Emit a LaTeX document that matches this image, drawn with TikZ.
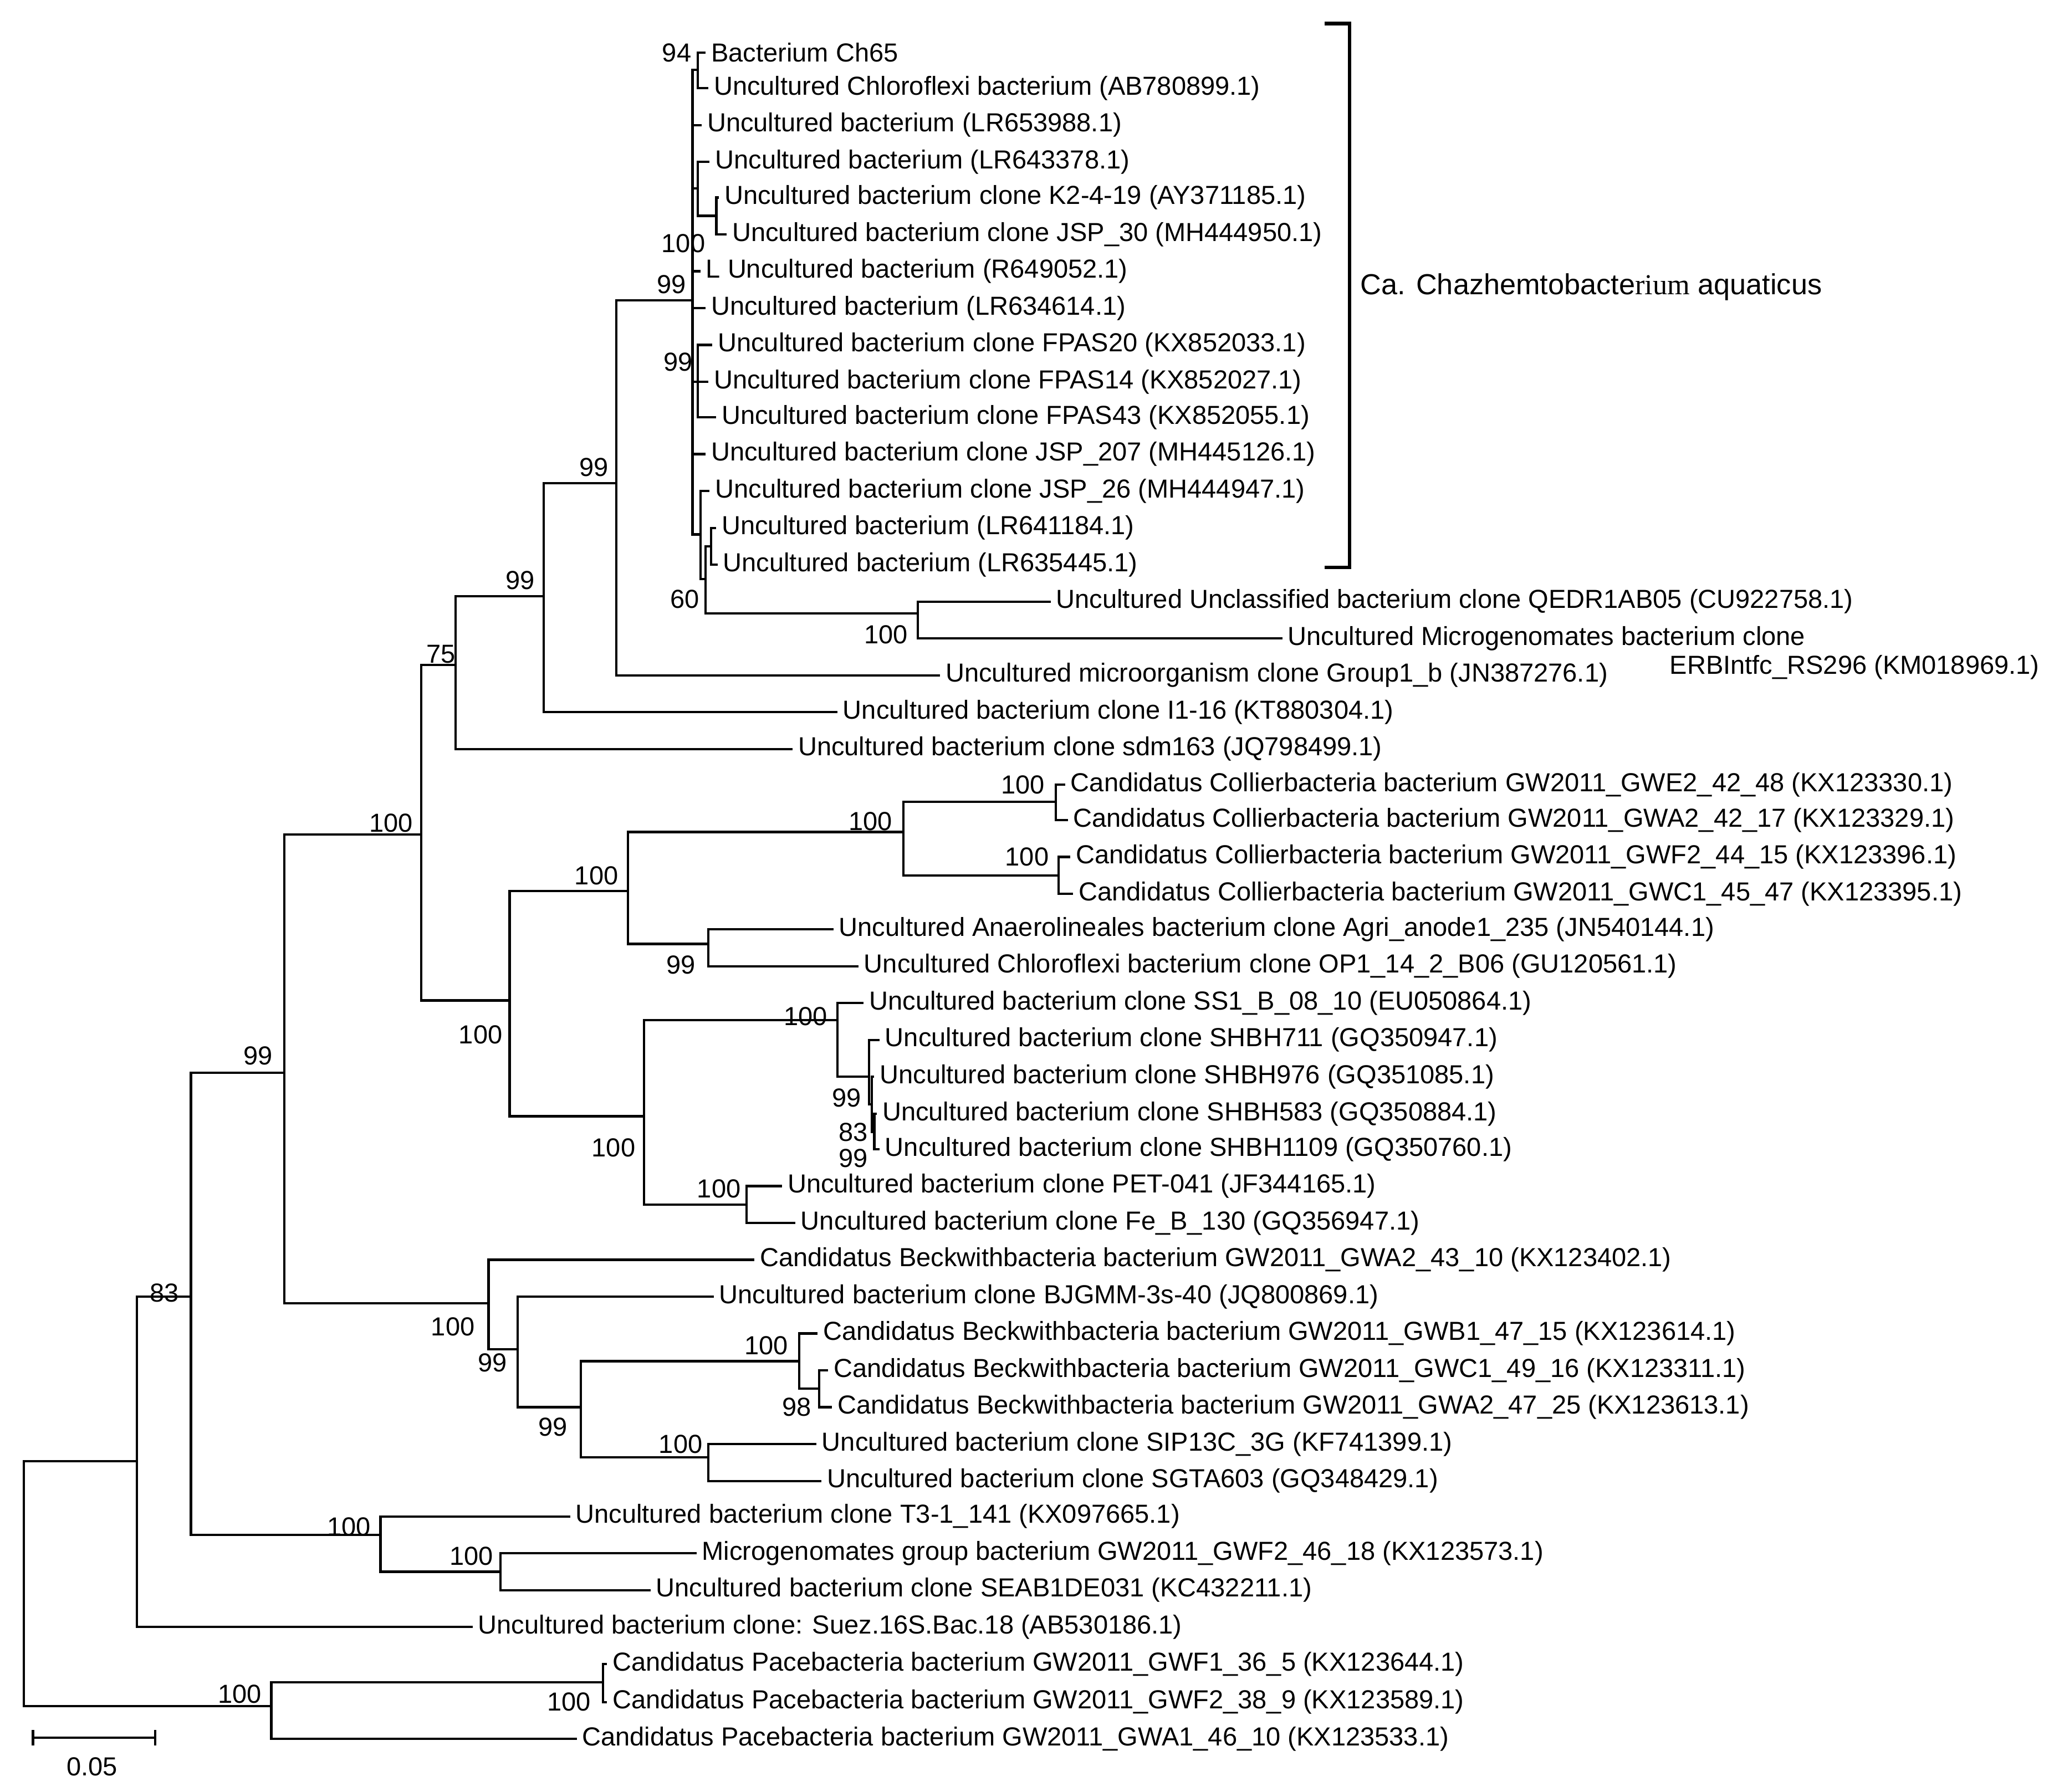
\documentclass[tikz,border=0pt]{standalone}
\usepackage{fontspec}
\setmainfont{Liberation Sans}
\newfontfamily\serifpart{Liberation Serif}
\begin{document}
\begin{tikzpicture}[x=1pt,y=-1pt,
  tip/.style={anchor=west,inner sep=0pt,font=\fontsize{19.8}{19.8}\selectfont},
  bs/.style={inner sep=0pt,font=\fontsize{19.8}{19.8}\selectfont},
  br/.style={line width=1.8pt},
  tb/.style={br,shorten >=4pt}]
\useasboundingbox (0,0) rectangle (1560,1361);
% internal nodes
\foreach \n/\x/\y in {R/18/1203,A/104/1110,B/145/985,T/289/1166,U/380/1194,C/216/815,D/320/634,E/371/990,F/393/1025,G/441/1069,H/607/1034,J/622/1055,I/538/1107,L/387/760,M/477/677,O/686/632,Q/802/609,S/804/665,Pn/538/717,N/489/848,V/636/775,X/660/818,Xb/662/839,Xc/664/860,W/567/915,K/346/505,Kb/413/453,Kc/468/367,Z/526/228,Na/530/53,Nb/530/143,Nk/544/164,Nf/530/290,Ya/532/406,Yb/536/440,Sf/540/415,Ng/697/466,P/206/1296,PQ/458/1278}
  \coordinate (\n) at (\x,\y);
% tips
\node[tip] (t1) at (540,40) {Bacterium Ch65};
\node[tip] (t2) at (542,67) {Uncultured Chloroflexi bacterium (AB780899.1)};
\node[tip] (t3) at (537,95) {Uncultured bacterium (LR653988.1)};
\node[tip] (t4) at (543,123) {Uncultured bacterium (LR643378.1)};
\node[tip] (t5) at (550,150) {Uncultured bacterium clone K2-4-19 (AY371185.1)};
\node[tip] (t6) at (556,178) {Uncultured bacterium clone JSP\_30 (MH444950.1)};
\node[tip] (t7) at (536,206) {L Uncultured bacterium (R649052.1)};
\node[tip] (t8) at (540,234) {Uncultured bacterium (LR634614.1)};
\node[tip] (t9) at (545,262) {Uncultured bacterium clone FPAS20 (KX852033.1)};
\node[tip] (t10) at (542,290) {Uncultured bacterium clone FPAS14 (KX852027.1)};
\node[tip] (t11) at (548,317) {Uncultured bacterium clone FPAS43 (KX852055.1)};
\node[tip] (t12) at (540,345) {Uncultured bacterium clone JSP\_207 (MH445126.1)};
\node[tip] (t13) at (543,373) {Uncultured bacterium clone JSP\_26 (MH444947.1)};
\node[tip] (t14) at (548,401) {Uncultured bacterium (LR641184.1)};
\node[tip] (t15) at (549,429) {Uncultured bacterium (LR635445.1)};
\node[tip] (t16) at (802,457) {Uncultured Unclassified bacterium clone QEDR1AB05 (CU922758.1)};
\node[tip] (t17) at (978,485) {Uncultured Microgenomates bacterium clone};
\node[tip] (t17b) at (1268,507) {ERBIntfc\_RS296 (KM018969.1)};
\node[tip] (t18) at (718,513) {Uncultured microorganism clone Group1\_b (JN387276.1)};
\node[tip] (t19) at (640,541) {Uncultured bacterium clone I1-16 (KT880304.1)};
\node[tip] (t20) at (606,569) {Uncultured bacterium clone sdm163 (JQ798499.1)};
\node[tip] (t21) at (813,596) {Candidatus Collierbacteria bacterium GW2011\_GWE2\_42\_48 (KX123330.1)};
\node[tip] (t22) at (815,623) {Candidatus Collierbacteria bacterium GW2011\_GWA2\_42\_17 (KX123329.1)};
\node[tip] (t23) at (817,651) {Candidatus Collierbacteria bacterium GW2011\_GWF2\_44\_15 (KX123396.1)};
\node[tip] (t24) at (819,679) {Candidatus Collierbacteria bacterium GW2011\_GWC1\_45\_47 (KX123395.1)};
\node[tip] (t25) at (637,706) {Uncultured Anaerolineales bacterium clone Agri\_anode1\_235 (JN540144.1)};
\node[tip] (t26) at (656,734) {Uncultured Chloroflexi bacterium clone OP1\_14\_2\_B06 (GU120561.1)};
\node[tip] (t27) at (660,762) {Uncultured bacterium clone SS1\_B\_08\_10 (EU050864.1)};
\node[tip] (t28) at (672,790) {Uncultured bacterium clone SHBH711 (GQ350947.1)};
\node[tip] (t29) at (668,818) {Uncultured bacterium clone SHBH976 (GQ351085.1)};
\node[tip] (t30) at (670,846) {Uncultured bacterium clone SHBH583 (GQ350884.1)};
\node[tip] (t31) at (672,873) {Uncultured bacterium clone SHBH1109 (GQ350760.1)};
\node[tip] (t32) at (598,901) {Uncultured bacterium clone PET-041 (JF344165.1)};
\node[tip] (t33) at (608,929) {Uncultured bacterium clone Fe\_B\_130 (GQ356947.1)};
\node[tip] (t34) at (577,957) {Candidatus Beckwithbacteria bacterium GW2011\_GWA2\_43\_10 (KX123402.1)};
\node[tip] (t35) at (546,985) {Uncultured bacterium clone BJGMM-3s-40 (JQ800869.1)};
\node[tip] (t36) at (625,1013) {Candidatus Beckwithbacteria bacterium GW2011\_GWB1\_47\_15 (KX123614.1)};
\node[tip] (t37) at (633,1041) {Candidatus Beckwithbacteria bacterium GW2011\_GWC1\_49\_16 (KX123311.1)};
\node[tip] (t38) at (636,1069) {Candidatus Beckwithbacteria bacterium GW2011\_GWA2\_47\_25 (KX123613.1)};
\node[tip] (t39) at (624,1097) {Uncultured bacterium clone SIP13C\_3G (KF741399.1)};
\node[tip] (t40) at (628,1125) {Uncultured bacterium clone SGTA603 (GQ348429.1)};
\node[tip] (t41) at (437,1152) {Uncultured bacterium clone T3-1\_141 (KX097665.1)};
\node[tip] (t42) at (533,1180) {Microgenomates group bacterium GW2011\_GWF2\_46\_18 (KX123573.1)};
\node[tip] (t43) at (498,1208) {Uncultured bacterium clone SEAB1DE031 (KC432211.1)};
\node[tip] (t44) at (363,1236) {Uncultured bacterium clone: Suez.16S.Bac.18 (AB530186.1)};
\node[tip] (t45) at (465,1264) {Candidatus Pacebacteria bacterium GW2011\_GWF1\_36\_5 (KX123644.1)};
\node[tip] (t46) at (465,1293) {Candidatus Pacebacteria bacterium GW2011\_GWF2\_38\_9 (KX123589.1)};
\node[tip] (t47) at (442,1321) {Candidatus Pacebacteria bacterium GW2011\_GWA1\_46\_10 (KX123533.1)};
% internal edges
\foreach \p/\c in {R/A,R/P,A/B,B/C,B/T,T/U,C/D,C/E,E/F,F/G,G/H,G/I,H/J,D/K,D/L,L/M,L/N,M/O,M/Pn,O/Q,O/S,N/V,N/W,V/X,X/Xb,Xb/Xc,K/Kb,Kb/Kc,Kc/Z,Z/Na,Z/Nb,Nb/Nk,Z/Nf,Z/Ya,Ya/Yb,Yb/Sf,Yb/Ng,P/PQ}
  \draw[br] (\p) |- (\c);
% tip edges
\foreach \p/\c in {Na/t1,Na/t2,Z/t3,Nb/t4,Nk/t5,Nk/t6,Z/t7,Z/t8,Nf/t9,Nf/t10,Nf/t11,Z/t12,Ya/t13,Sf/t14,Sf/t15,Ng/t16,Ng/t17,Kc/t18,Kb/t19,K/t20,Q/t21,Q/t22,S/t23,S/t24,Pn/t25,Pn/t26,V/t27,X/t28,Xb/t29,Xc/t30,Xc/t31,W/t32,W/t33,E/t34,F/t35,H/t36,J/t37,J/t38,I/t39,I/t40,T/t41,U/t42,U/t43,A/t44,PQ/t45,PQ/t46,P/t47}
  \draw[tb] (\p) |- (\c.west);
% bootstrap values
\foreach \v/\x/\y [count=\i] in {94/514/40,100/519/185,99/510/216,99/515/275,60/520/455,100/673/482,99/451/355,99/395/441,75/335/497,100/297/625,100/661/624,100/777/596,100/780/651,100/453/665,99/517/733,100/365/786,100/612/772,99/643/834,83/648/860,99/648/880,100/466/872,100/546/903,99/196/802,100/344/1008,99/374/1035,100/582/1022,98/605/1069,99/420/1084,100/517/1097,83/125/982,100/265/1160,100/358/1182,100/182/1287,100/432/1293}
  \node[bs] (b\i) at (\x,\y) {\v};
% clade bracket
\coordinate (k1) at (1006,18);
\coordinate (k2) at (1006,431);
\draw[line width=2.8pt] (k1) -| (1025,431) -- (k2);
\node[tip,font=\fontsize{22}{22}\selectfont] (clade) at (1033,218) {Ca. Chazhemtobacte{\serifpart rium} aquaticus};
% scale bar
\coordinate (s1) at (25,1320);
\coordinate (s2) at (118,1320);
\draw[br] (s1) -- (s2);
\draw[br] ([yshift=-6pt]s1) -- ([yshift=6pt]s1);
\draw[br] ([yshift=-6pt]s2) -- ([yshift=6pt]s2);
\node[bs] (sl) at (70,1342) {0.05};
\end{tikzpicture}
\end{document}
